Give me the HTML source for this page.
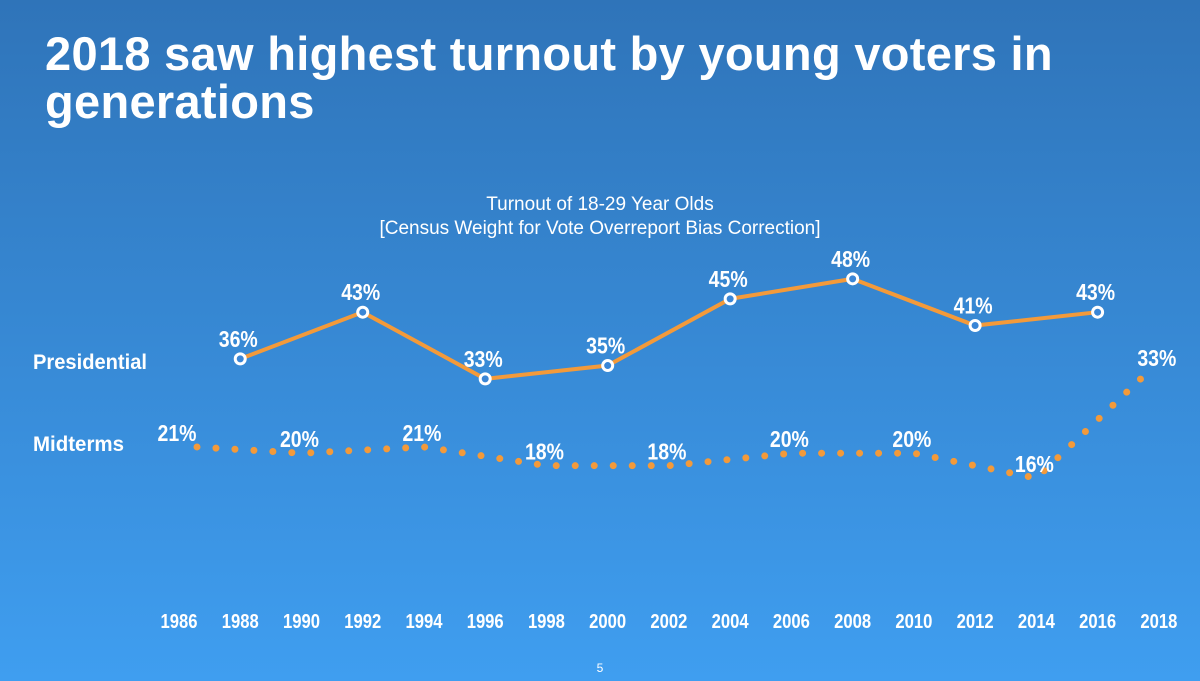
<!DOCTYPE html>
<html><head><meta charset="utf-8"><style>
html,body{margin:0;padding:0;width:1200px;height:681px;overflow:hidden}
body{background:linear-gradient(#2f74b9,#3f9ef0);font-family:"Liberation Sans",sans-serif;color:#fff;position:relative}
h1{position:absolute;left:45px;top:30px;margin:0;font-size:47px;line-height:48px;font-weight:bold;letter-spacing:0.3px}
</style></head><body>
<h1>2018 saw highest turnout by young voters in<br>generations</h1>
<svg id="c" width="1200" height="681" style="position:absolute;left:0;top:0">
<text x="600" y="210" text-anchor="middle" font-size="19" fill="#fff">Turnout of 18-29 Year Olds</text>
<text x="600" y="234" text-anchor="middle" font-size="19" fill="#fff">[Census Weight for Vote Overreport Bias Correction]</text>
<text x="33" y="369" font-size="21" font-weight="bold" textLength="114" lengthAdjust="spacingAndGlyphs" fill="#fff">Presidential</text>
<text x="33" y="451" font-size="21" font-weight="bold" textLength="91" lengthAdjust="spacingAndGlyphs" fill="#fff">Midterms</text>
<text x="600" y="672" text-anchor="middle" font-size="12" fill="#fff">5</text>
<g id="g"></g>
</svg>
<script>
const years=[1986,1988,1990,1992,1994,1996,1998,2000,2002,2004,2006,2008,2010,2012,2014,2016,2018];
const presYears=[1988,1992,1996,2000,2004,2008,2012,2016];
const presVals=[36,43,33,35,45,48,41,43];
const midYears=[1986,1990,1994,1998,2002,2006,2010,2014,2018];
const midVals=[21,20,21,18,18,20,20,16,33];
const NS='http://www.w3.org/2000/svg';
const g=document.getElementById('g');
const x=y=>179+(y-1986)*30.62;
const yp=v=>599-v*6.67;
const ym=v=>578-v*6.24;
function mk(t,a){const e=document.createElementNS(NS,t);for(const k in a)e.setAttribute(k,a[k]);g.appendChild(e);return e;}
function lbl(tx,cx,cy,w,fs){const t=mk('text',{x:cx-w/2,y:cy,'font-size':fs,'font-weight':'bold',fill:'#fff',textLength:w,lengthAdjust:'spacingAndGlyphs'});t.textContent=tx;return t;}
years.forEach(yr=>{const t=lbl(String(yr),x(yr),628,37,20);

});
const mx=yr=>yr===1986?x(yr)+18:(yr===2018?x(yr)-11:x(yr));
const mp=mk('polyline',{points:midYears.map((yr,i)=>mx(yr)+','+ym(midVals[i])).join(' '),fill:'none',stroke:'#f39a3a','stroke-width':7,'stroke-linecap':'round','stroke-dasharray':'0 19'});


midYears.forEach((yr,i)=>{const t=lbl(midVals[i]+'%',x(yr)-2,ym(midVals[i])-6,39,23);

});
const pl=mk('polyline',{points:presYears.map((yr,i)=>x(yr)+','+yp(presVals[i])).join(' '),fill:'none',stroke:'#f39a3a','stroke-width':4});


presYears.forEach((yr,i)=>{const c=mk('circle',{cx:x(yr),cy:yp(presVals[i]),r:5,fill:'#3a86d6',stroke:'#fff','stroke-width':3});


const t=lbl(presVals[i]+'%',x(yr)-2,yp(presVals[i])-12,39,23);

});
</script>
</body></html>
